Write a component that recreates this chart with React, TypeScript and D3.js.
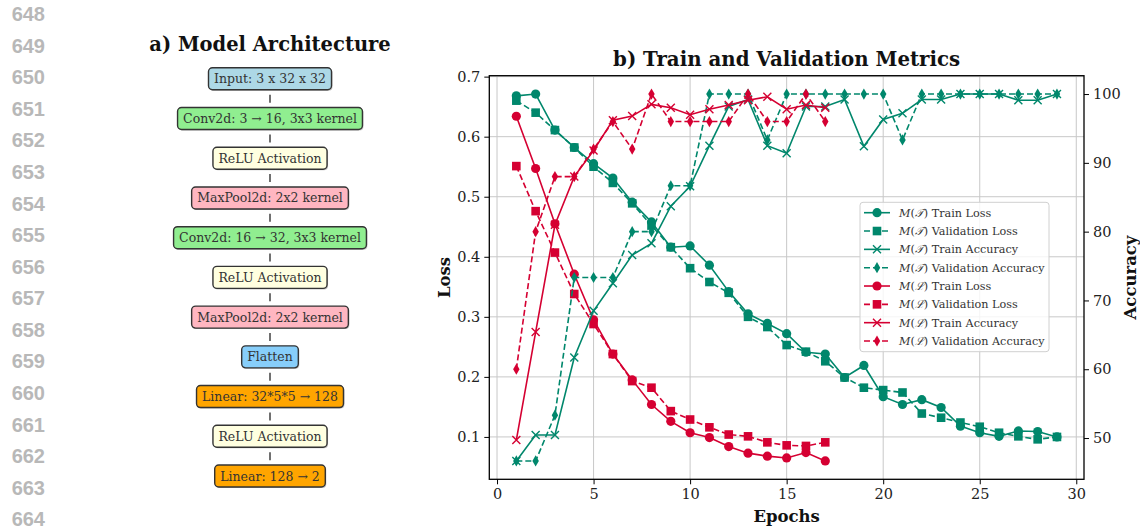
import React, { useEffect, useRef } from 'react';
import * as d3 from 'd3';

// page gutter line numbers
const lineNumbers = [648, 649, 650, 651, 652, 653, 654, 655, 656, 657, 658, 659, 660, 661, 662, 663, 664];

// a) architecture boxes
const archLayers = [
  'Input: 3 x 32 x 32',
  'Conv2d: 3 → 16, 3x3 kernel',
  'ReLU Activation',
  'MaxPool2d: 2x2 kernel',
  'Conv2d: 16 → 32, 3x3 kernel',
  'ReLU Activation',
  'MaxPool2d: 2x2 kernel',
  'Flatten',
  'Linear: 32*5*5 → 128',
  'ReLU Activation',
  'Linear: 128 → 2',
];
const archFills = [
  'lightblue', 'lightgreen', 'lightyellow', 'lightpink', 'lightgreen', 'lightyellow',
  'lightpink', 'lightskyblue', 'orange', 'lightyellow', 'orange',
];

// b) metrics
const epochsT = [1, 2, 3, 4, 5, 6, 7, 8, 9, 10, 11, 12, 13, 14, 15, 16, 17, 18, 19, 20, 21, 22, 23, 24, 25, 26, 27, 28, 29];
const epochsL = [1, 2, 3, 4, 5, 6, 7, 8, 9, 10, 11, 12, 13, 14, 15, 16, 17];

const tTrainLoss = [0.668, 0.671, 0.611, 0.582, 0.555, 0.531, 0.491, 0.458, 0.416, 0.418, 0.386, 0.342, 0.305, 0.289, 0.272, 0.241, 0.238, 0.199, 0.219, 0.167, 0.154, 0.162, 0.149, 0.118, 0.107, 0.101, 0.110, 0.109, 0.100];
const tValLoss = [0.660, 0.640, 0.611, 0.582, 0.550, 0.523, 0.489, 0.452, 0.416, 0.381, 0.358, 0.340, 0.300, 0.283, 0.253, 0.242, 0.226, 0.199, 0.182, 0.178, 0.174, 0.139, 0.132, 0.124, 0.117, 0.107, 0.101, 0.096, 0.100];
const tTrainAcc = [46.67, 50.45, 50.45, 61.7, 68.5, 72.5, 76.6, 78.3, 83.7, 86.6, 92.5, 98.2, 99.2, 92.5, 91.4, 98.2, 98.2, 99.2, 92.4, 96.3, 97.2, 99.2, 99.2, 100, 100, 100, 99.1, 99.1, 100];
const tValAcc = [46.67, 46.67, 53.33, 73.33, 73.33, 73.33, 80, 80, 86.67, 86.67, 100, 100, 100, 93.33, 100, 100, 100, 100, 100, 100, 93.33, 100, 100, 100, 100, 100, 100, 100, 100];

const lTrainLoss = [0.634, 0.547, 0.455, 0.371, 0.295, 0.238, 0.195, 0.154, 0.126, 0.107, 0.099, 0.084, 0.073, 0.068, 0.065, 0.074, 0.060];
const lValLoss = [0.551, 0.476, 0.407, 0.338, 0.288, 0.238, 0.193, 0.182, 0.143, 0.129, 0.116, 0.104, 0.101, 0.091, 0.086, 0.085, 0.091];
const lTrainAcc = [49.7, 65.4, 81, 88.0, 91.8, 96.2, 96.8, 98.5, 98.0, 97.0, 97.8, 98.4, 99.1, 99.6, 97.8, 98.4, 98.0];
const lValAcc = [60, 80, 88, 88, 92, 96, 92, 100, 96, 96, 96, 96, 100, 96, 96, 100, 96];

const xTicks = [0, 5, 10, 15, 20, 25, 30];
const lossTicks = [0.1, 0.2, 0.3, 0.4, 0.5, 0.6, 0.7];
const accTicks = [50, 60, 70, 80, 90, 100];

const TEAL = '#00876c';
const RED = '#d50032';
const SERIF = '"DejaVu Serif", "Liberation Serif", serif';

const series = [
  { model: 'T', label: 'Train Loss', epochs: epochsT, values: tTrainLoss, axis: 'L', color: TEAL, dashed: false, marker: 'circle' },
  { model: 'T', label: 'Validation Loss', epochs: epochsT, values: tValLoss, axis: 'L', color: TEAL, dashed: true, marker: 'square' },
  { model: 'T', label: 'Train Accuracy', epochs: epochsT, values: tTrainAcc, axis: 'R', color: TEAL, dashed: false, marker: 'x' },
  { model: 'T', label: 'Validation Accuracy', epochs: epochsT, values: tValAcc, axis: 'R', color: TEAL, dashed: true, marker: 'diamond' },
  { model: 'L', label: 'Train Loss', epochs: epochsL, values: lTrainLoss, axis: 'L', color: RED, dashed: false, marker: 'circle' },
  { model: 'L', label: 'Validation Loss', epochs: epochsL, values: lValLoss, axis: 'L', color: RED, dashed: true, marker: 'square' },
  { model: 'L', label: 'Train Accuracy', epochs: epochsL, values: lTrainAcc, axis: 'R', color: RED, dashed: false, marker: 'x' },
  { model: 'L', label: 'Validation Accuracy', epochs: epochsL, values: lValAcc, axis: 'R', color: RED, dashed: true, marker: 'diamond' },
];

const drawMarker = (g, type, cx, cy, color) => {
  if (type === 'circle') {
    g.append('circle').attr('cx', cx).attr('cy', cy).attr('r', 4.6).attr('fill', color);
  } else if (type === 'square') {
    g.append('rect').attr('x', cx - 4.3).attr('y', cy - 4.3).attr('width', 8.6).attr('height', 8.6).attr('fill', color);
  } else if (type === 'diamond') {
    g.append('path')
      .attr('transform', `translate(${cx},${cy})`)
      .attr('d', d3.symbol(d3.symbolDiamond, 36)())
      .attr('fill', color);
  } else {
    g.append('path')
      .attr('d', `M${cx - 4},${cy - 4}L${cx + 4},${cy + 4}M${cx - 4},${cy + 4}L${cx + 4},${cy - 4}`)
      .attr('stroke', color)
      .attr('stroke-width', 1.4)
      .attr('fill', 'none');
  }
};

const App = () => {
  const svgRef = useRef(null);

  useEffect(() => {
    const svg = d3.select(svgRef.current);
    svg.selectAll('*').remove();

    // gutter numbers
    const yLine = d3.scalePoint().domain(lineNumbers).range([14, 519]);
    svg.append('g')
      .selectAll('text')
      .data(lineNumbers)
      .join('text')
      .attr('x', 45)
      .attr('y', (d) => yLine(d))
      .attr('dy', '0.36em')
      .attr('text-anchor', 'end')
      .style('font-family', '"Liberation Sans", Arial, sans-serif')
      .style('font-weight', 'bold')
      .style('font-size', '20px')
      .attr('fill', '#b8b8b8')
      .text((d) => d);

    // ---- a) Model Architecture
    const archX = 270;
    const yArch = d3.scalePoint().domain(d3.range(archLayers.length)).range([78.8, 476]);

    svg.append('text')
      .attr('x', archX)
      .attr('y', 51)
      .attr('text-anchor', 'middle')
      .style('font-family', SERIF)
      .style('font-weight', 'bold')
      .style('font-size', '19.5px')
      .attr('fill', '#111')
      .text('a) Model Architecture');

    const arch = svg.append('g');
    archLayers.forEach((name, i) => {
      if (i < archLayers.length - 1) {
        const mid = (yArch(i) + yArch(i + 1)) / 2;
        arch.append('line')
          .attr('x1', archX).attr('x2', archX)
          .attr('y1', mid - 4).attr('y2', mid + 4)
          .attr('stroke', '#222').attr('stroke-width', 1.3);
      }
    });
    archLayers.forEach((name, i) => {
      const g = arch.append('g').attr('transform', `translate(${archX},${yArch(i)})`);
      const shadow = g.append('rect');
      const box = g.append('rect');
      const t = g.append('text')
        .attr('text-anchor', 'middle')
        .attr('dy', '0.36em')
        .style('font-family', SERIF)
        .style('font-size', '12.5px')
        .attr('fill', '#333')
        .text(name);
      const w = t.node().getComputedTextLength() + 11;
      const h = 22;
      shadow.attr('x', -w / 2 + 1).attr('y', -h / 2 + 1).attr('width', w).attr('height', h)
        .attr('rx', 4).attr('fill', '#777').attr('opacity', 0.45);
      box.attr('x', -w / 2).attr('y', -h / 2).attr('width', w).attr('height', h)
        .attr('rx', 4).attr('fill', archFills[i]).attr('stroke', '#333').attr('stroke-width', 1.4);
    });

    // ---- b) Train and Validation Metrics
    const plot = { left: 489.3, right: 1084, top: 75.7, bottom: 479.3 };
    const pad = (ext) => {
      const r = ext[1] - ext[0];
      return [ext[0] - r * 0.05, ext[1] + r * 0.05];
    };
    const allEpochs = epochsT.concat(epochsL);
    const allLoss = series.filter((s) => s.axis === 'L').flatMap((s) => s.values);
    const allAcc = series.filter((s) => s.axis === 'R').flatMap((s) => s.values);

    const x = d3.scaleLinear().domain(pad(d3.extent(allEpochs))).range([plot.left, plot.right]);
    const yL = d3.scaleLinear().domain(pad(d3.extent(allLoss))).range([plot.bottom, plot.top]);
    const yR = d3.scaleLinear().domain(pad(d3.extent(allAcc))).range([plot.bottom, plot.top]);

    const chart = svg.append('g');

    // grid
    chart.append('g')
      .selectAll('line')
      .data(xTicks)
      .join('line')
      .attr('x1', (d) => x(d)).attr('x2', (d) => x(d))
      .attr('y1', plot.top).attr('y2', plot.bottom)
      .attr('stroke', '#c8c8c8').attr('stroke-width', 1);
    chart.append('g')
      .selectAll('line')
      .data(lossTicks)
      .join('line')
      .attr('x1', plot.left).attr('x2', plot.right)
      .attr('y1', (d) => yL(d)).attr('y2', (d) => yL(d))
      .attr('stroke', '#c8c8c8').attr('stroke-width', 1);

    // series
    const drawSeries = (s) => {
      const y = s.axis === 'L' ? yL : yR;
      const pts = s.epochs.map((e, i) => [x(e), y(s.values[i])]);
      const g = chart.append('g');
      g.append('path')
        .attr('d', d3.line()(pts))
        .attr('fill', 'none')
        .attr('stroke', s.color)
        .attr('stroke-width', 1.6)
        .attr('stroke-dasharray', s.dashed ? '6,3' : null);
      pts.forEach((p) => drawMarker(g, s.marker, p[0], p[1], s.color));
    };
    series.filter((s) => s.axis === 'L').forEach(drawSeries);
    series.filter((s) => s.axis === 'R').forEach(drawSeries);

    // frame
    chart.append('rect')
      .attr('x', plot.left).attr('y', plot.top)
      .attr('width', plot.right - plot.left).attr('height', plot.bottom - plot.top)
      .attr('fill', 'none').attr('stroke', '#000').attr('stroke-width', 1.3);

    const tickFont = (sel) => sel.selectAll('text')
      .style('font-family', SERIF)
      .style('font-size', '14.5px')
      .attr('fill', '#222');

    const xAxis = chart.append('g')
      .attr('transform', `translate(0,${plot.bottom})`)
      .call(d3.axisBottom(x).tickValues(xTicks).tickSize(5).tickSizeOuter(0).tickPadding(4));
    xAxis.select('.domain').remove();
    tickFont(xAxis);

    const yAxisL = chart.append('g')
      .attr('transform', `translate(${plot.left},0)`)
      .call(d3.axisLeft(yL).tickValues(lossTicks).tickFormat(d3.format('.1f')).tickSize(5).tickSizeOuter(0).tickPadding(4));
    yAxisL.select('.domain').remove();
    tickFont(yAxisL);

    const yAxisR = chart.append('g')
      .attr('transform', `translate(${plot.right},0)`)
      .call(d3.axisRight(yR).tickValues(accTicks).tickSize(5).tickSizeOuter(0).tickPadding(4));
    yAxisR.select('.domain').remove();
    tickFont(yAxisR);

    const cx = (plot.left + plot.right) / 2;
    const cy = (plot.top + plot.bottom) / 2;
    const bold = (sel, size) => sel
      .style('font-family', SERIF)
      .style('font-weight', 'bold')
      .style('font-size', size)
      .attr('fill', '#111')
      .attr('text-anchor', 'middle');

    bold(chart.append('text').attr('x', cx).attr('y', 66).text('b) Train and Validation Metrics'), '19.8px');
    bold(chart.append('text').attr('x', cx).attr('y', 522).text('Epochs'), '16.5px');
    bold(chart.append('text')
      .attr('transform', `translate(450,${cy}) rotate(-90)`)
      .text('Loss'), '16.5px');
    bold(chart.append('text')
      .attr('transform', `translate(1136,${cy}) rotate(-90)`)
      .text('Accuracy'), '16.5px');

    // legend
    const lg = chart.append('g').attr('transform', 'translate(860,202.3)');
    lg.append('rect')
      .attr('width', 189).attr('height', 149.4).attr('rx', 3)
      .attr('fill', '#fff').attr('fill-opacity', 0.8)
      .attr('stroke', '#d0d0d0').attr('stroke-width', 1);
    const yLeg = d3.scalePoint().domain(d3.range(series.length)).range([10.4, 138.7]);
    series.forEach((s, i) => {
      const yy = yLeg(i);
      const row = lg.append('g');
      row.append('line')
        .attr('x1', 4).attr('x2', 30).attr('y1', yy).attr('y2', yy)
        .attr('stroke', s.color).attr('stroke-width', 1.6)
        .attr('stroke-dasharray', s.dashed ? '6,3' : null);
      drawMarker(row, s.marker, 17, yy, s.color);
      const t = row.append('text')
        .attr('x', 39).attr('y', yy).attr('dy', '0.35em')
        .style('font-family', SERIF)
        .style('font-size', '11.2px')
        .attr('fill', '#333');
      t.append('tspan').style('font-style', 'italic').text('M');
      t.append('tspan').text('(');
      t.append('tspan').style('font-style', 'italic').text(s.model === 'T' ? '𝒯' : 'ℒ');
      t.append('tspan').text(') ' + s.label);
    });
  }, []);

  return (
    <div style={{ position: 'fixed', left: 0, top: 0, width: 1140, height: 531, background: '#fff' }}>
      <svg ref={svgRef} width={1140} height={531} style={{ display: 'block' }} />
    </div>
  );
};

export default App;
